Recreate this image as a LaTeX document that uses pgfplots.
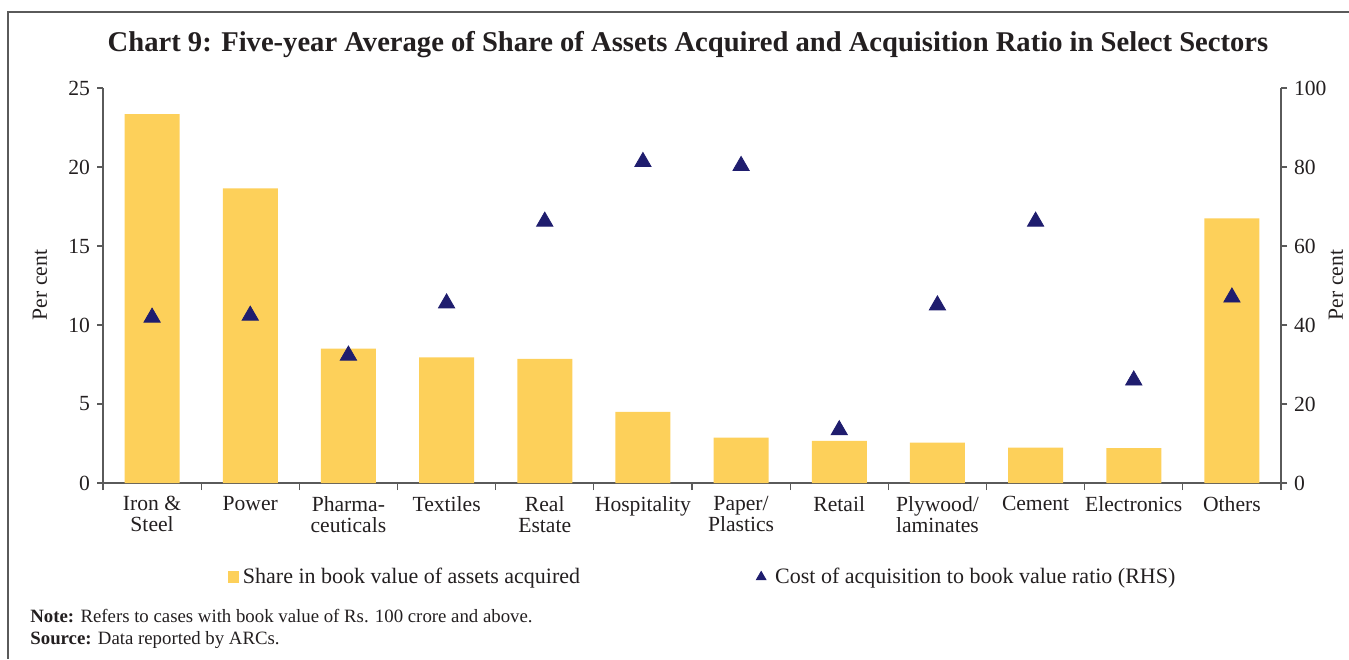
\documentclass[border=0pt]{standalone}
\usepackage{fontspec}
\setmainfont{Liberation Serif}
\usepackage{pgfplots}
\pgfplotsset{compat=1.18}
\definecolor{barc}{RGB}{253,208,90}
\definecolor{navy}{RGB}{31,29,110}
\definecolor{txt}{RGB}{35,31,32}
\definecolor{axc}{RGB}{90,90,90}

\begin{document}
\begin{tikzpicture}
% image-pixel frame: 1px = 0.5pt, origin top left
\begin{scope}[x=0.5pt,y=-0.5pt]
\useasboundingbox (0,0) rectangle (1349,659);
\draw[axc,line width=0.8pt] (1349,12) -- (8,12) -- (8,659);
\node[txt,font=\fontsize{14.3}{16}\selectfont\bfseries] at (688,45)
  {Chart 9: Five-year Average of Share of Assets Acquired and Acquisition Ratio in Select Sectors};
\node[txt,rotate=90,font=\fontsize{10.8}{13}\selectfont] at (40,285) {Per cent};
\node[txt,rotate=90,font=\fontsize{10.8}{13}\selectfont,inner sep=1pt] at (1336,285) {Per cent};
\node[txt,anchor=west,font=\fontsize{9.4}{11}\selectfont,inner sep=0pt] at (30,616)
  {\textbf{Note:} Refers to cases with book value of Rs. 100 crore and above.};
\node[txt,anchor=west,font=\fontsize{9.4}{11}\selectfont,inner sep=0pt] at (30,640)
  {\textbf{Source:} Data reported by ARCs.};
\end{scope}

\pgfplotsset{
  common/.style={
    at={(51.5pt,-241.5pt)}, anchor=south west,
    scale only axis, width=589pt, height=197.5pt,
    xmin=-0.5, xmax=11.5,
    axis line style={-,axc,line width=0.6pt},
    tick style={axc,line width=0.6pt},
    tick align=outside, major tick length=3pt, minor tick length=3.5pt,
    ticklabel style={text=txt,font=\fontsize{10.8}{10.5}\selectfont},
    /pgf/number format/assume math mode=true,
  }
}

% share of assets acquired (LHS)
\begin{axis}[common,
  ymin=0, ymax=25, ytick={0,5,...,25},
  axis x line*=bottom, axis y line*=left,
  xtick={0,...,11},
  xticklabels={Iron \&\\Steel, Power, Pharma-\\ceuticals, Textiles, Real\\Estate,
    Hospitality, Paper/\\Plastics, Retail, Plywood/\\laminates, Cement, Electronics, Others},
  xticklabel style={align=center},
  major x tick style={draw=none},
  minor xtick={-0.5,0.5,...,11.5},
]
\addplot[ybar, bar width=27.5pt, fill=barc, draw=none] coordinates {
  (0,23.35) (1,18.65) (2,8.5) (3,7.95) (4,7.85) (5,4.5)
  (6,2.88) (7,2.67) (8,2.55) (9,2.24) (10,2.2) (11,16.75)
};
\end{axis}

% cost of acquisition to book value ratio (RHS)
\begin{axis}[common,
  ymin=0, ymax=100, ytick={0,20,...,100},
  axis y line*=right, axis x line=none,
  legend columns=2,
  legend style={at={(0.51,-0.238)}, anchor=center, draw=none, fill=none,
    font=\fontsize{11}{13}\selectfont, text=txt,
    /tikz/every even column/.append style={column sep=86pt}},
]
\addlegendimage{legend image code/.code={\fill[barc] (0pt,-2.6pt) rectangle (5pt,2.6pt);}}
\addlegendentry{Share in book value of assets acquired}
\addplot[only marks, mark=triangle*, mark size=4.7pt, color=navy,
  legend image code/.code={\draw[mark size=2.8pt,mark=triangle*,only marks] plot coordinates {(2.5pt,0pt)};
    \path[draw=none] (0pt,0pt) -- (7.5pt,0pt);}]
  coordinates {
  (0,41.9) (1,42.4) (2,32.3) (3,45.5) (4,66.2) (5,81.3)
  (6,80.3) (7,13.4) (8,45.0) (9,66.2) (10,26.0) (11,47.0)
};
\addlegendentry{Cost of acquisition to book value ratio (RHS)}
\end{axis}
\end{tikzpicture}
\end{document}
